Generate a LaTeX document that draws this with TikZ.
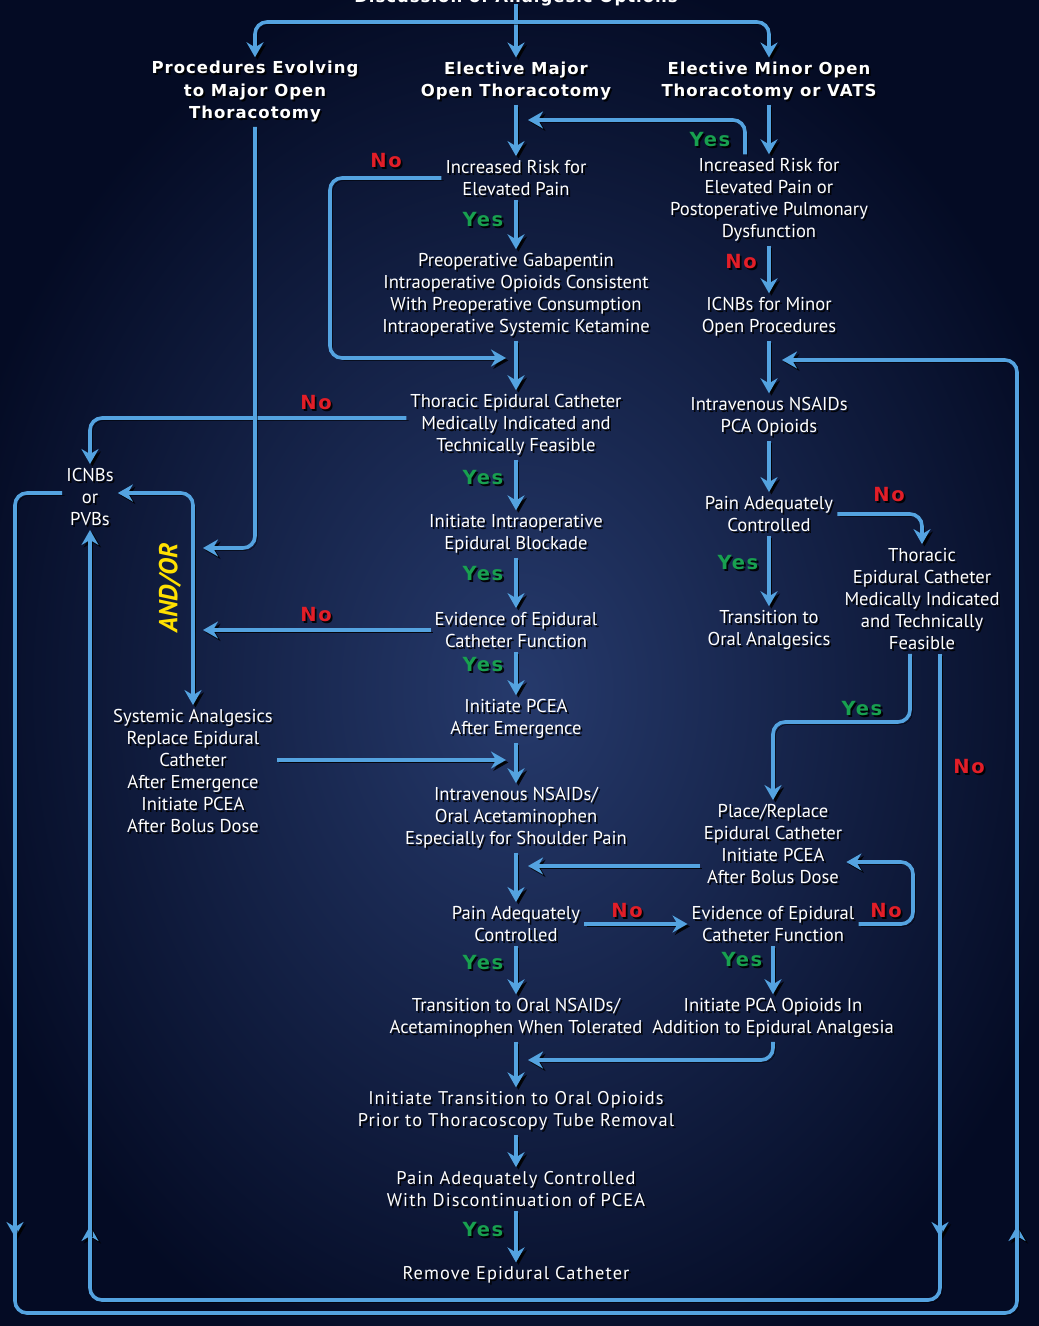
\documentclass[tikz,border=0pt]{standalone}
\usepackage{fontspec}
\setmainfont{PT Sans}
\newfontfamily\hdrfont[LetterSpace=6]{DejaVu Sans}
\newfontfamily\labfont[LetterSpace=9]{DejaVu Sans}
\newfontfamily\trkfont[LetterSpace=6]{PT Sans}
\usetikzlibrary{arrows.meta,calc}
\definecolor{ablue}{RGB}{84,163,224}
\definecolor{bgin}{RGB}{38,58,108}
\definecolor{bgout}{RGB}{4,11,36}
\definecolor{yesg}{RGB}{24,160,80}
\definecolor{nor}{RGB}{226,30,40}
\definecolor{andy}{RGB}{255,224,0}
\tikzset{
  txt/.style={text=white, align=center, inner sep=4pt, font=\fontsize{18.6}{22}\selectfont},
  trk/.style={font=\trkfont\fontsize{18.4}{22}\selectfont},
  hdr/.style={font=\hdrfont\bfseries\fontsize{16.5}{22.5}\selectfont},
  lab/.style={inner sep=0pt, font=\labfont\bfseries\fontsize{19.5}{20}\selectfont},
  yes/.style={lab, text=yesg},
  no/.style={lab, text=nor},
  arr/.style={draw=ablue, line width=3.6pt, rounded corners=12pt,
    -{Stealth[length=15pt,width=17pt,inset=5pt]},
    preaction={draw=black, opacity=0.85, transform canvas={shift={(2.4,2.4)}}}},
}
\newcommand\tn[4][]{%
  \node[txt,#1,text=black,opacity=0.9] (#2-s) at ($(#3)+(1.8,1.8)$) {#4};
  \node[txt,#1] (#2) at (#3) {#4};}
\begin{document}
\begin{tikzpicture}[x=1pt,y=-1pt]
\useasboundingbox (0,0) rectangle (1039,1326);
\shade[inner color=bgin, outer color=bgout] (-60,-40) rectangle (1100,1420);
% title (cut off at top, as in the reference)
\node[txt,hdr,anchor=base] (title) at (516,2) {Discussion of Analgesic Options};
% headers
\tn[hdr]{hP}{255,92}{Procedures Evolving\\to Major Open\\Thoracotomy}
\tn[hdr]{hM}{516,81}{Elective Major\\Open Thoracotomy}
\tn[hdr]{hm}{769,81}{Elective Minor Open\\Thoracotomy or VATS}
% main column
\tn{incr1}{516,178}{Increased Risk for\\Elevated Pain}
\tn{prep}{516,295}{Preoperative Gabapentin\\Intraoperative Opioids Consistent\\With Preoperative Consumption\\Intraoperative Systemic Ketamine}
\tn{tec}{516,425}{Thoracic Epidural Catheter\\Medically Indicated and\\Technically Feasible}
\tn{iib}{516,534}{Initiate Intraoperative\\Epidural Blockade}
\tn{eec}{516,630}{Evidence of Epidural\\Catheter Function}
\tn{ipe}{516,719}{Initiate PCEA\\After Emergence}
\tn{ivn}{516,818}{Intravenous NSAIDs/\\Oral Acetaminophen\\Especially for Shoulder Pain}
\tn{pac}{516,924}{Pain Adequately\\Controlled}
\tn{tro}{516,1018}{Transition to Oral NSAIDs/\\Acetaminophen When Tolerated}
\tn[trk]{ito}{516,1111}{Initiate Transition to Oral Opioids\\Prior to Thoracoscopy Tube Removal}
\tn[trk]{pad}{516,1189}{Pain Adequately Controlled\\With Discontinuation of PCEA}
\tn[trk]{rem}{516,1275}{Remove Epidural Catheter}
% right column
\tn{incr2}{769,200}{Increased Risk for\\Elevated Pain or\\Postoperative Pulmonary\\Dysfunction}
\tn{icm}{769,317}{ICNBs for Minor\\Open Procedures}
\tn{ivr}{769,417}{Intravenous NSAIDs\\PCA Opioids}
\tn{par}{769,514}{Pain Adequately\\Controlled}
\tn{tor}{769,630}{Transition to\\Oral Analgesics}
\tn{tecr}{922,599}{Thoracic\\Epidural Catheter\\Medically Indicated\\and Technically\\Feasible}
\tn{prc}{773,844}{Place/Replace\\Epidural Catheter\\Initiate PCEA\\After Bolus Dose}
\tn{eer}{773,924}{Evidence of Epidural\\Catheter Function}
\tn{ipo}{773,1018}{Initiate PCA Opioids In\\Addition to Epidural Analgesia}
% left
\tn{icn}{90,497}{ICNBs\\or\\PVBs}
\tn{sys}{193,771}{Systemic Analgesics\\Replace Epidural\\Catheter\\After Emergence\\Initiate PCEA\\After Bolus Dose}
\node[inner sep=0pt, rotate=90, text=andy, font=\bfseries\itshape\fontsize{26}{26}\selectfont] (andor) at (170,588) {AND/OR};
% junction coordinates
\coordinate (top) at (516,4);
\coordinate (jt) at (516,22);
\coordinate (j2) at (516,120);
\coordinate (j1) at (516,358);
\coordinate (bus1) at (193,548);
\coordinate (bus2) at (193,630);
\coordinate (j3) at (516,760);
\coordinate (j4) at (516,866);
\coordinate (j5) at (516,1060);
\coordinate (j6) at (769,360);
% connectors
\draw[arr] (top) -- (hM.north);
\draw[arr] (jt) -| (hP.north);
\draw[arr] (jt) -| (hm.north);
\draw[arr] (hM.south) -- (incr1.north);
\draw[arr] (hm.south) -- (incr2.north);
\draw[arr] ([xshift=-24pt]incr2.north) -- (745,120) -- ([xshift=12pt]j2);
\draw[arr] (incr1.west) -- (330,178) -- (330,358) -- ([xshift=-10pt]j1);
\draw[arr] (incr1.south) -- (prep.north);
\draw[arr] (prep.south) -- (tec.north);
\draw[arr] ([yshift=7pt]tec.west) -| (icn.north);
\draw[arr] (tec.south) -- (iib.north);
\draw[arr] (hP.south) |- ([xshift=10pt]bus1);
\draw[arr] (iib.south) -- (eec.north);
\draw[arr] (eec.west) -- ([xshift=10pt]bus2);
\draw[arr] (bus1) -- (sys.north);
\draw[arr] (bus2) |- ([yshift=4pt]icn.east);
\draw[arr] (eec.south) -- (ipe.north);
\draw[arr] ([yshift=11pt]sys.east) -- ([xshift=-10pt]j3);
\draw[arr] (ipe.south) -- (ivn.north);
\draw[arr] (ivn.south) -- (pac.north);
\draw[arr] ([yshift=-22pt]prc.west) -- ([xshift=12pt]j4);
\draw[arr] (pac.east) -- (eer.west);
\draw[arr] (pac.south) -- (tro.north);
\draw[arr] (tro.south) -- (ito.north);
\draw[arr] (ipo.south) |- ([xshift=12pt]j5);
\draw[arr] (ito.south) -- (pad.north);
\draw[arr] (pad.south) -- (rem.north);
\draw[arr] (incr2.south) -- (icm.north);
\draw[arr] (icm.south) -- (ivr.north);
\draw[arr] (ivr.south) -- (par.north);
\draw[arr] (par.east) -| (tecr.north);
\draw[arr] (par.south) -- (tor.north);
\draw[arr] ([xshift=-12pt]tecr.south) -- (910,722) -| (prc.north);
\draw[arr] (eer.east) -- (913,924) |- ([yshift=-18pt]prc.east);
\draw[arr] (eer.south) -- (ipo.north);
% outer loop
\draw[arr] ([yshift=4pt]icn.west) -| (15,1237);
\draw[arr] (15,1228) -- (15,1313) -- (1017,1313) -- (1017,1226);
\draw[arr] (1017,1235) |- ([xshift=13pt]j6);
% inner loop
\draw[arr] ([xshift=18pt]tecr.south) -- (940,1237);
\draw[arr] (940,1228) -- (940,1300) -- (90,1300) -- (90,1226);
\draw[arr] (90,1235) -- (icn.south);
% labels
\tn[no]{n1}{386,161}{No}
\tn[no]{n2}{316,403}{No}
\tn[no]{n3}{316,615}{No}
\tn[no]{n4}{627,911}{No}
\tn[no]{n5}{741,262}{No}
\tn[no]{n6}{889,495}{No}
\tn[no]{n7}{886,911}{No}
\tn[no]{n8}{969,767}{No}
\tn[yes]{y1}{710,140}{Yes}
\tn[yes]{y2}{483,220}{Yes}
\tn[yes]{y3}{483,478}{Yes}
\tn[yes]{y4}{483,574}{Yes}
\tn[yes]{y5}{483,665}{Yes}
\tn[yes]{y6}{483,963}{Yes}
\tn[yes]{y7}{483,1230}{Yes}
\tn[yes]{y8}{738,563}{Yes}
\tn[yes]{y9}{862,709}{Yes}
\tn[yes]{y10}{742,960}{Yes}
\end{tikzpicture}
\end{document}
